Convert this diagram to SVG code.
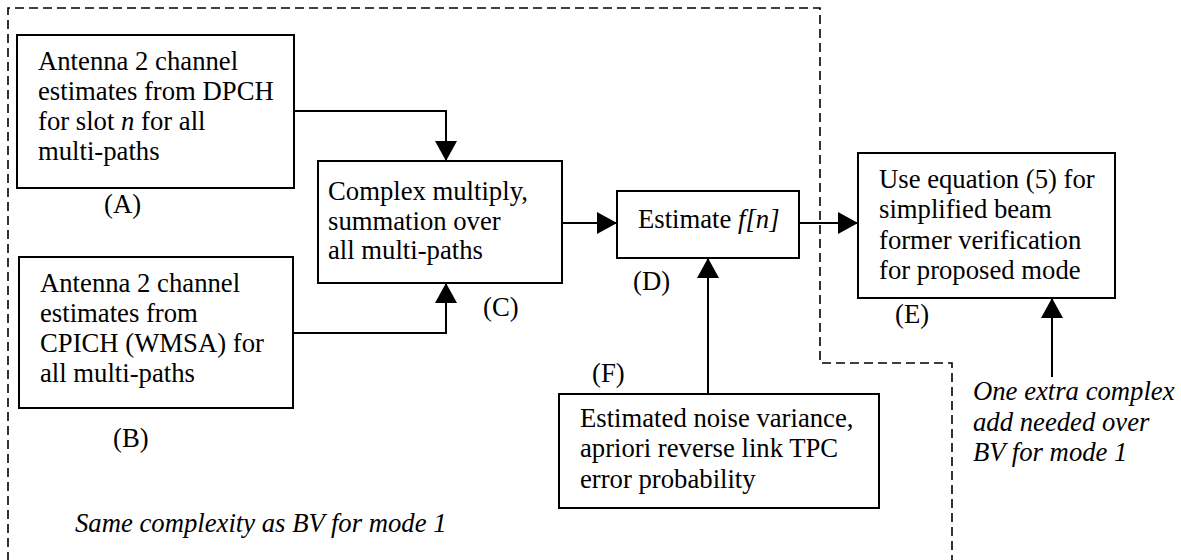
<svg xmlns="http://www.w3.org/2000/svg" width="1181" height="560" viewBox="0 0 1181 560">
<style>
.box{fill:#fff;stroke:#000;stroke-width:2}
.t{font-family:"Liberation Serif","Times New Roman",serif;font-size:26.7px;fill:#000}
.i{font-style:italic}
.ln{fill:none;stroke:#000;stroke-width:2}
.dash{fill:none;stroke:#000;stroke-width:1.6;stroke-dasharray:9 5}
</style>
<defs>
<marker id="ah" markerWidth="20" markerHeight="22" refX="20" refY="11" orient="auto" markerUnits="userSpaceOnUse">
<path d="M0,0 L20,11 L0,22 Z" fill="#000"/>
</marker>
</defs>
<g id="boundary">
<path class="dash" d="M8,561 L8,8 L820,8 L820,363 L952,363 L952,561"/>
</g>
<g id="connectors">
<path class="ln" d="M294,111 L446,111 L446,161" marker-end="url(#ah)"/>
<path class="ln" d="M293,333 L446,333 L446,283" marker-end="url(#ah)"/>
<path class="ln" d="M562,223 L617,223" marker-end="url(#ah)"/>
<path class="ln" d="M800,223 L858,223" marker-end="url(#ah)"/>
<path class="ln" d="M708,394 L708,258" marker-end="url(#ah)"/>
<path class="ln" d="M1052,377 L1052,298" marker-end="url(#ah)"/>
</g>
<g id="nodeA">
<rect class="box" x="17" y="35" width="277" height="153"/>
<text class="t" x="38" y="70">Antenna 2 channel</text>
<text class="t" x="38" y="100">estimates from DPCH</text>
<text class="t" x="38" y="130">for slot <tspan class="i">n</tspan>  for all</text>
<text class="t" x="38" y="160">multi-paths</text>
<text class="t" x="104" y="213">(A)</text>
</g>
<g id="nodeB">
<rect class="box" x="19" y="257" width="274" height="151"/>
<text class="t" x="40" y="292">Antenna 2 channel</text>
<text class="t" x="40" y="322">estimates from</text>
<text class="t" x="40" y="352">CPICH (WMSA) for</text>
<text class="t" x="40" y="382">all multi-paths</text>
<text class="t" x="113" y="447">(B)</text>
</g>
<g id="nodeC">
<rect class="box" x="318" y="161" width="244" height="122"/>
<text class="t" x="328" y="200">Complex multiply,</text>
<text class="t" x="328" y="230">summation over</text>
<text class="t" x="328" y="259">all multi-paths</text>
<text class="t" x="483" y="316">(C)</text>
</g>
<g id="nodeD">
<rect class="box" x="617" y="191" width="182" height="67"/>
<text class="t" x="638" y="228">Estimate <tspan class="i">f[n]</tspan></text>
<text class="t" x="633" y="290">(D)</text>
</g>
<g id="nodeE">
<rect class="box" x="858" y="153" width="257" height="145"/>
<text class="t" x="879" y="188">Use equation (5) for</text>
<text class="t" x="879" y="218">simplified beam</text>
<text class="t" x="879" y="249">former verification</text>
<text class="t" x="879" y="279">for proposed mode</text>
<text class="t" x="895" y="323">(E)</text>
</g>
<g id="nodeF">
<rect class="box" x="559" y="394" width="320" height="114"/>
<text class="t" x="580" y="427">Estimated noise variance,</text>
<text class="t" x="580" y="457">apriori reverse link TPC</text>
<text class="t" x="580" y="488">error probability</text>
<text class="t" x="592" y="382">(F)</text>
</g>
<g id="notes">
<text class="t i" x="973" y="400">One extra complex</text>
<text class="t i" x="973" y="431">add needed over</text>
<text class="t i" x="973" y="461">BV for mode 1</text>
<text class="t i" x="75" y="532">Same complexity as BV for mode 1</text>
</g>
</svg>
